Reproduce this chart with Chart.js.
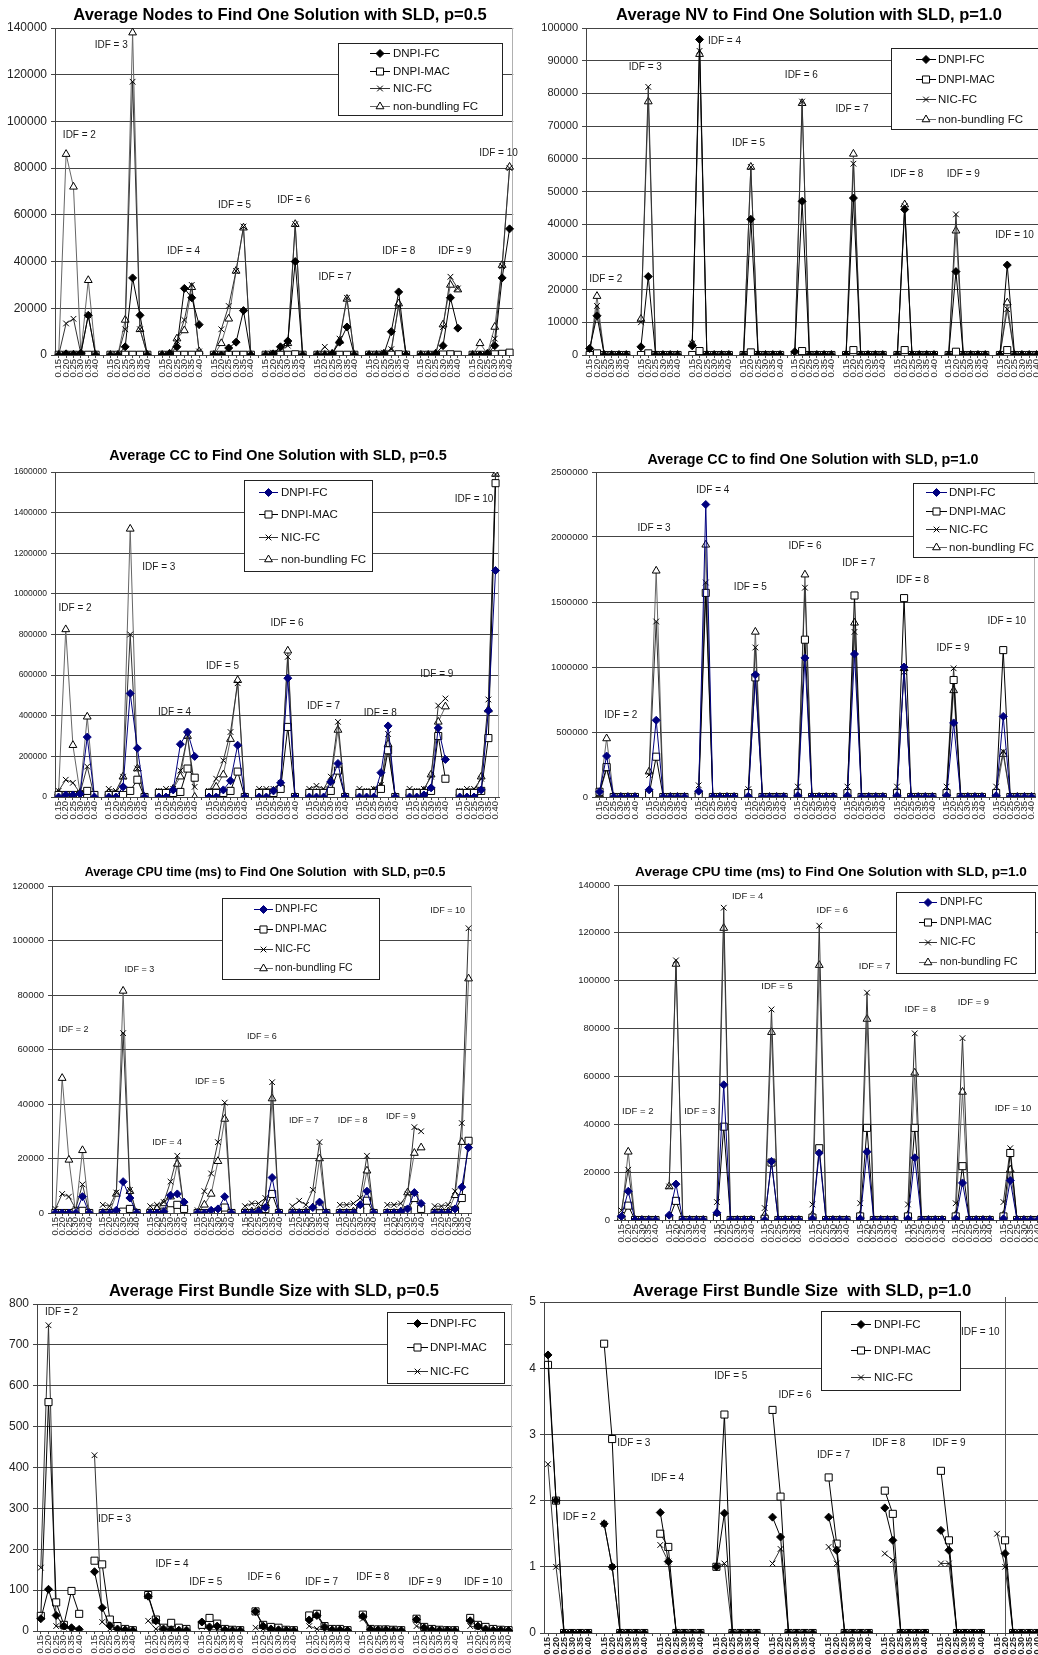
<!DOCTYPE html>
<html><head><meta charset="utf-8">
<script src="https://cdn.jsdelivr.net/npm/chart.js@4.4.1/dist/chart.umd.min.js"></script>
<style>
html,body{margin:0;padding:0;background:#fff;width:1038px;height:1655px;overflow:hidden;position:relative;}
.w{position:absolute;}
canvas{display:block;}
</style></head><body>
<script>
// ---------- DATA ----------
const IDF_LABELS = ["IDF = 2","IDF = 3","IDF = 4","IDF = 5","IDF = 6","IDF = 7","IDF = 8","IDF = 9","IDF = 10"];
const P_LABELS = ["0.15","0.20","0.25","0.30","0.35","0.40"];
const SERIES4 = ["DNPI-FC","DNPI-MAC","NIC-FC","non-bundling FC"];
const SERIES3 = ["DNPI-FC","DNPI-MAC","NIC-FC"];

// Average Nodes, p=0.5
const nodes05_DNPIFC = [[0,500,300,700,17000,0],[0,0,3500,33000,17000,0],[0,500,3500,28500,24500,13000],[0,0,3000,5500,19000,0],[0,500,3500,6000,40000,0],[0,0,500,5500,12000,0],[0,0,500,10000,27000,0],[0,0,500,4000,24500,11500],[0,0,500,4000,33000,54000]];
const nodes05_DNPIMAC = [[100,100,100,100,100,100],[100,100,100,100,100,100],[100,100,100,100,100,100],[100,100,100,100,100,100],[100,100,100,100,300,100],[100,100,100,100,100,100],[100,100,100,100,300,100],[100,100,100,200,300,100],[100,100,100,300,500,1000]];
const nodes05_NICFC = [[0,13500,15500,500,17000,0],[0,0,11000,117000,11000,0],[0,500,6000,15000,30000,1500],[0,11000,21000,36000,55000,0],[0,1000,2000,4000,56000,0],[0,3500,500,7000,24500,0],[0,0,1000,2500,21000,0],[0,0,500,12000,33500,28500],[0,500,500,7000,38000,80000]];
const nodes05_NBFC = [[0,86000,72000,500,32000,0],[0,0,15000,138000,11000,0],[0,500,7000,10500,29000,1500],[0,5000,15500,36000,54500,0],[0,0,2500,5000,56000,0],[0,0,500,6000,24000,0],[0,0,500,1500,22000,0],[0,0,500,13000,30000,28000],[0,5000,500,12000,38500,80500]];

// Average NV, p=1.0
const nv10_DNPIFC = [[2000,12000,0,0,0,0],[2500,24000,0,0,0,0],[2800,96500,0,0,0,0],[0,41500,0,0,0,0],[1000,47000,0,0,0,0],[0,48000,0,0,0,0],[0,44500,0,0,0,0],[0,25500,0,0,0,0],[0,27500,0,0,0,0]];
const nv10_DNPIMAC = [[0,500,0,0,0,0],[0,500,0,0,0,0],[0,1200,0,0,0,0],[0,800,0,0,0,0],[0,1200,0,0,0,0],[0,1500,0,0,0,0],[0,1500,0,0,0,0],[0,1000,0,0,0,0],[0,1500,0,0,0,0]];
const nv10_NICFC = [[1000,15000,0,0,0,0],[10000,82000,0,0,0,0],[3500,93000,0,0,0,0],[0,57500,0,0,0,0],[0,77500,0,0,0,0],[0,58500,0,0,0,0],[0,45500,0,0,0,0],[0,43000,0,0,0,0],[0,14000,0,0,0,0]];
const nv10_NBFC = [[500,18000,0,0,0,0],[11000,77500,0,0,0,0],[3500,92000,0,0,0,0],[0,57500,0,0,0,0],[0,77000,0,0,0,0],[0,61500,0,0,0,0],[0,46000,0,0,0,0],[0,38000,0,0,0,0],[0,16000,0,0,0,0]];

// Average CC, p=0.5
const cc05_DNPIFC = [[0,10000,10000,15000,295000,0],[0,0,50000,510000,240000,0],[0,0,35000,260000,320000,200000],[0,0,35000,80000,255000,0],[0,0,30000,70000,585000,0],[0,0,0,75000,165000,0],[0,0,0,120000,350000,0],[0,0,10000,45000,340000,185000],[0,0,0,35000,425000,1115000]];
const cc05_DNPIMAC = [[10000,10000,10000,10000,30000,10000],[10000,10000,10000,30000,85000,0],[20000,20000,20000,25000,140000,95000],[20000,20000,20000,30000,125000,0],[20000,20000,20000,40000,345000,0],[20000,20000,20000,30000,130000,0],[20000,20000,20000,40000,230000,0],[20000,20000,20000,30000,300000,90000],[20000,20000,20000,30000,290000,1545000]];
const cc05_NICFC = [[30000,85000,70000,20000,150000,0],[40000,30000,100000,800000,140000,0],[30000,40000,40000,130000,300000,50000],[30000,90000,180000,320000,560000,0],[40000,40000,40000,70000,690000,0],[40000,55000,40000,100000,370000,0],[40000,30000,40000,60000,310000,0],[40000,30000,40000,100000,450000,485000],[30000,40000,40000,90000,480000,1590000]];
const cc05_NBFC = [[20000,825000,255000,20000,395000,0],[20000,10000,100000,1320000,140000,0],[20000,20000,40000,100000,300000,0],[20000,50000,110000,285000,575000,0],[20000,20000,30000,60000,720000,0],[20000,20000,20000,80000,330000,0],[20000,20000,30000,50000,260000,0],[20000,20000,30000,110000,370000,445000],[20000,20000,20000,100000,430000,1590000]];

// Average CC, p=1.0
const cc10_DNPIFC = [[40000,315000,0,0,0,0],[55000,590000,0,0,0,0],[45000,2250000,0,0,0,0],[5000,940000,0,0,0,0],[10000,1070000,0,0,0,0],[10000,1100000,0,0,0,0],[10000,1000000,0,0,0,0],[10000,570000,0,0,0,0],[10000,620000,0,0,0,0]];
const cc10_DNPIMAC = [[40000,230000,0,0,0,0],[20000,310000,0,0,0,0],[20000,1570000,0,0,0,0],[30000,920000,0,0,0,0],[30000,1210000,0,0,0,0],[30000,1550000,0,0,0,0],[30000,1530000,0,0,0,0],[30000,900000,0,0,0,0],[30000,1130000,0,0,0,0]];
const cc10_NICFC = [[30000,215000,0,0,0,0],[170000,1350000,0,0,0,0],[90000,1650000,0,0,0,0],[60000,1150000,0,0,0,0],[80000,1610000,0,0,0,0],[80000,1270000,0,0,0,0],[80000,960000,0,0,0,0],[80000,990000,0,0,0,0],[80000,350000,0,0,0,0]];
const cc10_NBFC = [[20000,450000,0,0,0,0],[195000,1740000,0,0,0,0],[40000,1940000,0,0,0,0],[0,1270000,0,0,0,0],[20000,1710000,0,0,0,0],[20000,1340000,0,0,0,0],[20000,990000,0,0,0,0],[30000,820000,0,0,0,0],[20000,330000,0,0,0,0]];

// Average CPU time (ms), p=0.5
const cpu05_DNPIFC = [[0,0,0,0,6000,0],[0,0,1000,11500,5500,0],[0,0,500,6500,7000,4000],[0,0,1000,1500,6000,0],[0,0,500,2000,13000,0],[0,0,0,2000,4000,0],[0,0,0,3000,8000,0],[0,0,500,1500,7500,3500],[0,0,0,1500,9500,24000]];
const cpu05_DNPIMAC = [[0,0,0,500,800,0],[0,0,0,500,1500,0],[0,0,500,1000,3000,1500],[0,0,0,500,2000,0],[0,0,500,1500,7000,0],[0,0,0,1000,2500,0],[0,0,0,1000,4500,0],[0,0,0,1000,5500,1500],[0,0,0,1000,5500,26500]];
const cpu05_NICFC = [[1500,7000,6000,1500,10500,0],[3000,2500,7500,66000,8500,0],[2500,3000,4000,11500,21000,1500],[1000,8000,14500,26000,40500,0],[2500,3500,3500,5500,48000,0],[2500,4500,3000,8500,26000,0],[3000,3000,3500,5500,21000,0],[3000,3000,3500,7000,31500,30000],[2500,2500,3000,8000,33000,104500]];
const cpu05_NBFC = [[0,49500,19500,0,23000,0],[0,0,7000,81500,8000,0],[0,1500,3500,6000,18000,2000],[0,3000,7000,19000,34500,0],[0,500,1000,3500,42000,0],[0,0,500,2000,20000,0],[0,0,500,2500,15500,0],[0,0,500,7500,22000,24000],[0,0,500,6500,26000,86000]];

// Average CPU time (ms), p=1.0
const cpu10_DNPIFC = [[1500,12000,0,0,0,0],[2000,15000,0,0,0,0],[3000,56500,0,0,0,0],[0,24500,0,0,0,0],[500,28000,0,0,0,0],[500,28500,0,0,0,0],[500,26000,0,0,0,0],[500,15500,0,0,0,0],[500,16500,0,0,0,0]];
const cpu10_DNPIMAC = [[500,6000,0,0,0,0],[500,8000,0,0,0,0],[500,39000,0,0,0,0],[500,24000,0,0,0,0],[1000,30000,0,0,0,0],[1500,38500,0,0,0,0],[1500,38500,0,0,0,0],[1500,22500,0,0,0,0],[1500,28000,0,0,0,0]];
const cpu10_NICFC = [[4000,21000,0,0,0,0],[14000,108500,0,0,0,0],[7500,130500,0,0,0,0],[5000,88000,0,0,0,0],[6500,123000,0,0,0,0],[7000,95000,0,0,0,0],[6500,78000,0,0,0,0],[7000,76000,0,0,0,0],[7500,30000,0,0,0,0]];
const cpu10_NBFC = [[1000,28500,0,0,0,0],[14000,107000,0,0,0,0],[3000,122000,0,0,0,0],[2000,78500,0,0,0,0],[2000,106500,0,0,0,0],[2000,84000,0,0,0,0],[2000,61500,0,0,0,0],[2000,53500,0,0,0,0],[2000,21000,0,0,0,0]];

// Average First Bundle Size, p=0.5
const bundle05_DNPIFC = [[30,102,38,12,8,4],[145,57,13,5,3,1],[85,25,5,3,2,2],[22,10,12,3,2,1],[48,12,5,3,2,1],[27,38,10,3,3,1],[36,4,3,3,2,1],[28,8,3,2,2,1],[25,12,5,2,2,1]];
const bundle05_DNPIMAC = [[37,560,70,15,98,42],[172,163,28,12,5,2],[88,28,8,20,8,5],[15,32,18,5,3,2],[48,15,10,8,3,2],[38,42,12,5,5,2],[40,5,4,4,3,2],[30,10,5,3,2,2],[32,15,10,5,3,2]];
const bundle05_NICFC = [[155,748,12,8,5,3],[430,22,5,3,2,1],[25,5,3,2,2,1],[10,3,3,2,1,1],[8,5,3,2,1,1],[12,5,3,2,2,1],[30,3,2,2,1,1],[12,5,3,2,1,1],[12,8,3,2,1,1]];

// Average First Bundle Size, p=1.0
const bundle10_DNPIFC = [[4.2,2.0,0,0,0,0],[1.65,1.0,0,0,0,0],[1.82,1.08,0,0,0,0],[1.0,1.81,0,0,0,0],[1.75,1.45,0,0,0,0],[1.75,1.25,0,0,0,0],[1.89,1.4,0,0,0,0],[1.55,1.25,0,0,0,0],[null,1.2,0,0,0,0]];
const bundle10_DNPIMAC = [[4.05,2.0,0,0,0,0],[4.37,2.93,0,0,0,0],[1.5,1.3,0,0,0,0],[1.0,3.3,0,0,0,0],[3.37,2.06,0,0,0,0],[2.35,1.35,0,0,0,0],[2.15,1.8,0,0,0,0],[2.45,1.4,0,0,0,0],[null,1.4,0,0,0,0]];
const bundle10_NICFC = [[2.55,1.0,0,0,0,0],[1.65,1.0,0,0,0,0],[1.33,1.08,0,0,0,0],[1.0,1.05,0,0,0,0],[1.05,1.27,0,0,0,0],[1.3,1.05,0,0,0,0],[1.2,1.1,0,0,0,0],[1.05,1.05,0,0,0,0],[1.5,1.0,0,0,0,0]];

// ---------- BUILD ----------
const FONT = '"Liberation Sans", Arial, sans-serif';
function buildLabels(){const o=[];IDF_LABELS.forEach((g,i)=>{P_LABELS.forEach(p=>o.push(p));if(i<IDF_LABELS.length-1)o.push('');});return o;}
function flat(groups){const o=[];groups.forEach((g,i)=>{g.forEach(v=>o.push(v));if(i<groups.length-1)o.push(null);});return o;}

const CHARTS = [
 {box:[0,0,522,395], area:[55,28,516,355], title:'Average Nodes to Find One Solution with SLD, p=0.5', tXY:[280,15], tSize:16.5,
  yMax:140000, yStep:20000, ySize:12, xSize:9.5, xBold:false, blue:false, names:SERIES4,
  series:[nodes05_DNPIFC,nodes05_DNPIMAC,nodes05_NICFC,nodes05_NBFC],
  legend:{box:[338,43,502,115], rows:[53,71,88,106], line:[370,390], text:393, size:11.5},
  idf:[[2.8,94000],[7.1,132600],[16.9,44600],[23.8,64150],[31.8,66300],[37.4,33500],[46.0,44600],[53.6,44600],[59.5,86500]], idfSize:10},
 {box:[519,0,530,395], area:[586,28,1043,355], title:'Average NV to Find One Solution with SLD, p=1.0', tXY:[809,15], tSize:16.5,
  yMax:100000, yStep:10000, ySize:11, xSize:9.5, xBold:false, blue:false, names:SERIES4,
  series:[nv10_DNPIFC,nv10_DNPIMAC,nv10_NICFC,nv10_NBFC],
  legend:{box:[891,48,1045,129], rows:[59,79,99,119], line:[916,936], text:938, size:11.5},
  idf:[[2.2,23200],[7.6,88100],[18.4,96100],[21.7,64800],[28.9,85700],[35.8,75200],[43.3,55400],[51.0,55400],[58.0,36700]], idfSize:10},
 {box:[0,440,508,400], area:[55,472,502,797], title:'Average CC to Find One Solution with SLD, p=0.5', tXY:[278,456], tSize:14.4,
  yMax:1600000, yStep:200000, ySize:8.5, xSize:9.5, xBold:false, blue:true, names:SERIES4,
  series:[cc05_DNPIFC,cc05_DNPIMAC,cc05_NICFC,cc05_NBFC],
  legend:{box:[244,480,372,571], rows:[492,514,537,559], line:[259,278], text:281, size:11.5},
  idf:[[2.3,930000],[14.0,1132000],[16.2,418000],[22.9,643000],[31.9,857000],[37.0,448000],[44.9,413000],[52.8,602000],[58.0,1464000]], idfSize:10},
 {box:[519,440,525,400], area:[596,472,1038,797], title:'Average CC to find One Solution with SLD, p=1.0', tXY:[813,460], tSize:14.3,
  yMax:2500000, yStep:500000, ySize:9.5, xSize:9.5, xBold:false, blue:true, names:SERIES4,
  series:[cc10_DNPIFC,cc10_DNPIMAC,cc10_NICFC,cc10_NBFC],
  legend:{box:[913,483,1040,557], rows:[492,511,529,547], line:[926,947], text:949, size:11.5},
  idf:[[3.0,629000],[7.7,2068000],[16.0,2356000],[21.3,1611000],[29.0,1927000],[36.6,1798000],[44.2,1670000],[49.9,1148000],[57.5,1349000]], idfSize:10},
 {box:[0,860,481,395], area:[52,886,475,1213], title:'Average CPU time (ms) to Find One Solution  with SLD, p=0.5', tXY:[265,873], tSize:12.4,
  yMax:120000, yStep:20000, ySize:9.5, xSize:9.5, xBold:false, blue:true, names:SERIES4,
  series:[cpu05_DNPIFC,cpu05_DNPIMAC,cpu05_NICFC,cpu05_NBFC],
  legend:{box:[222,898,379,979], rows:[909,929,949,968], line:[254,273], text:275, size:10.5},
  idf:[[2.7,67300],[12.4,89400],[16.5,25700],[22.8,48300],[30.5,64800],[36.7,34000],[43.9,34000],[51.0,35500],[57.9,111000]], idfSize:9},
 {box:[519,860,531,395], area:[618,885,1044,1220], title:'Average CPU time (ms) to Find One Solution with SLD, p=1.0', tXY:[831,872], tSize:13.6,
  yMax:140000, yStep:20000, ySize:9.5, xSize:9.5, xBold:false, blue:true, names:SERIES4,
  series:[cpu10_DNPIFC,cpu10_DNPIMAC,cpu10_NICFC,cpu10_NBFC],
  legend:{box:[896,892,1035,973], rows:[902,922,942,962], line:[919,937], text:940, size:10.5},
  idf:[[2.4,45300],[11.5,45300],[18.5,135400],[22.8,97500],[30.9,129500],[37.1,105900],[43.8,88200],[51.6,90800],[57.4,46700]], idfSize:9.5},
 {box:[0,1270,521,385], area:[37,1304,515,1631], title:'Average First Bundle Size with SLD, p=0.5', tXY:[274,1291], tSize:16.5,
  yMax:800, yStep:100, ySize:12, xSize:9.5, xBold:false, blue:false, names:SERIES3,
  series:[bundle05_DNPIFC,bundle05_DNPIMAC,bundle05_NICFC],
  legend:{box:[387,1312,504,1383], rows:[1323,1347,1371], line:[407,428], text:430, size:11.5},
  idf:[[2.7,781],[9.6,273],[17.1,164],[21.5,120],[29.1,131],[36.6,120],[43.3,131],[50.1,120],[57.7,120]], idfSize:10},
 {box:[519,1270,530,385], area:[544,1302,1043,1633], title:'Average First Bundle Size  with SLD, p=1.0', tXY:[802,1291], tSize:16.7,
  yMax:5, yStep:1, ySize:12, xSize:9, xBold:true, blue:false, names:SERIES3, vline:57,
  series:[bundle10_DNPIFC,bundle10_DNPIMAC,bundle10_NICFC],
  legend:{box:[821,1311,960,1390], rows:[1324,1350,1377], line:[851,871], text:874, size:11.5},
  idf:[[3.9,1.75],[10.7,2.86],[14.9,2.34],[22.8,3.88],[30.8,3.59],[35.6,2.68],[42.5,2.86],[50.0,2.86],[53.9,4.55]], idfSize:10}
];

function styles(blue){
  const fc = blue ? '#00007f' : '#000';
  return [
    {line:fc, ps:'rectRot', r:4, fill:fc, stroke:fc},
    {line:'#000', ps:'rect', r:5, fill:'#fff', stroke:'#000'},
    {line:'#333', ps:'crossRot', r:4, fill:'rgba(0,0,0,0)', stroke:'#000'},
    {line:'#666', ps:'triangle', r:4.5, fill:'#fff', stroke:'#000'}
  ];
}

const deco = {
  id:'deco',
  beforeDatasetsDraw(chart, args, o){
    const ctx=chart.ctx, a=chart.chartArea, xs=chart.scales.x, ys=chart.scales.y;
    ctx.save();
    ctx.strokeStyle='#b0b0b0'; ctx.lineWidth=1;
    ctx.beginPath(); ctx.moveTo(Math.round(a.right)-0.5, a.top); ctx.lineTo(Math.round(a.right)-0.5, a.bottom); ctx.stroke();
    if (o.cfg.vline!==undefined){
      const vx=Math.round(xs.getPixelForValue(o.cfg.vline))+0.5;
      ctx.strokeStyle='#555'; ctx.beginPath(); ctx.moveTo(vx,a.top-5); ctx.lineTo(vx,a.bottom); ctx.stroke();
    }
    ctx.fillStyle='#1a1a1a'; ctx.font=o.cfg.idfSize+'px '+FONT; ctx.textAlign='center'; ctx.textBaseline='middle';
    o.cfg.idf.forEach((p,i)=>ctx.fillText(IDF_LABELS[i], xs.getPixelForValue(p[0]), ys.getPixelForValue(p[1])));
    ctx.restore();
  },
  afterDraw(chart, args, o){
    const c=o.cfg, ctx=chart.ctx, ox=c.box[0], oy=c.box[1];
    ctx.save();
    ctx.fillStyle='#000'; ctx.font='bold '+c.tSize+'px '+FONT; ctx.textAlign='center'; ctx.textBaseline='middle';
    ctx.fillText(c.title, c.tXY[0]-ox, c.tXY[1]-oy);
    const L=c.legend, st=styles(c.blue);
    const bx=Math.round(L.box[0]-ox)+0.5, by=Math.round(L.box[1]-oy)+0.5, bw=Math.round(L.box[2]-L.box[0]), bh=Math.round(L.box[3]-L.box[1]);
    ctx.fillStyle='#fff'; ctx.fillRect(bx,by,bw,bh);
    ctx.strokeStyle='#222'; ctx.lineWidth=1; ctx.strokeRect(bx,by,bw,bh);
    c.names.forEach((n,i)=>{
      const y=Math.round(L.rows[i]-oy)+0.5, s=st[i];
      ctx.strokeStyle=s.line; ctx.lineWidth=1;
      ctx.beginPath(); ctx.moveTo(L.line[0]-ox,y); ctx.lineTo(L.line[1]-ox,y); ctx.stroke();
      ctx.fillStyle=s.fill; ctx.strokeStyle=s.stroke;
      Chart.helpers.drawPoint(ctx,{pointStyle:s.ps, radius:s.r, rotation:0, borderWidth:1}, (L.line[0]+L.line[1])/2-ox, y);
      ctx.fillStyle='#111'; ctx.font=L.size+'px '+FONT; ctx.textAlign='left'; ctx.textBaseline='middle';
      ctx.fillText(n, L.text-ox, y);
    });
    ctx.restore();
  }
};

const labels = buildLabels();
CHARTS.forEach(c=>{
  const w=document.createElement('div'); w.className='w';
  w.style.left=c.box[0]+'px'; w.style.top=c.box[1]+'px';
  const cv=document.createElement('canvas'); cv.width=c.box[2]; cv.height=c.box[3];
  cv.style.width=c.box[2]+'px'; cv.style.height=c.box[3]+'px';
  w.appendChild(cv); document.body.appendChild(w);
  const st=styles(c.blue);
  const yW=c.area[0]-c.box[0], padT=c.area[1]-c.box[1], padR=c.box[0]+c.box[2]-c.area[2], xH=c.box[1]+c.box[3]-c.area[3];
  const datasets=c.series.map((s,i)=>({
    label:c.names[i], data:flat(s), borderColor:st[i].line, borderWidth:1,
    pointStyle:st[i].ps, pointRadius:st[i].r, pointBackgroundColor:st[i].fill, pointBorderColor:st[i].stroke,
    pointBorderWidth:1, tension:0, spanGaps:false, fill:false
  }));
  new Chart(cv,{
    type:'line',
    data:{labels, datasets},
    options:{
      responsive:false, animation:false, devicePixelRatio:1, events:[],
      layout:{padding:{top:padT, right:padR, left:0, bottom:0}},
      plugins:{legend:{display:false}, tooltip:{enabled:false}, title:{display:false}, deco:{cfg:c}},
      scales:{
        x:{offset:true,
           ticks:{autoSkip:false, minRotation:90, maxRotation:90, padding:1, color:'#222', font:{size:c.xSize, family:FONT, weight:c.xBold?'bold':'normal'}},
           grid:{drawOnChartArea:false, tickLength:3, color:'#444'}, border:{color:'#444', width:1},
           afterFit(s){s.height=xH;}},
        y:{min:0, max:c.yMax,
           ticks:{stepSize:c.yStep, padding:4, color:'#222', font:{size:c.ySize, family:FONT}, callback:v=>String(v)},
           grid:{color:'#444', lineWidth:1, tickLength:4}, border:{color:'#444', width:1},
           afterFit(s){s.width=yW;}}
      }
    },
    plugins:[deco]
  });
});
</script>
</body></html>
